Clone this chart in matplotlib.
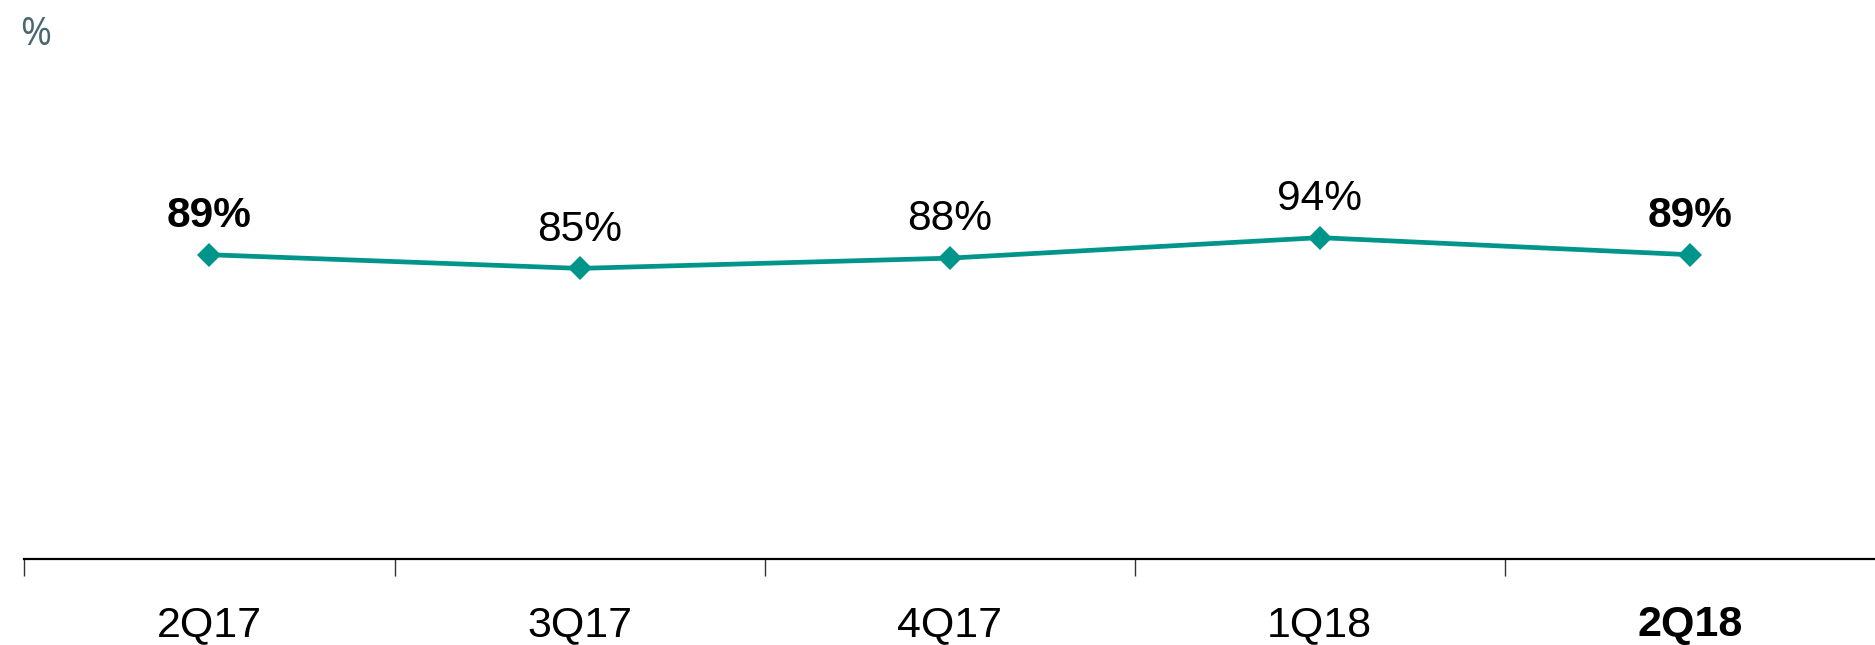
import matplotlib.pyplot as plt

quarters = ["2Q17", "3Q17", "4Q17", "1Q18", "2Q18"]
values = [89, 85, 88, 94, 89]
bold_points = [True, False, False, False, True]

plt.rcParams["font.family"] = ["Liberation Sans", "DejaVu Sans"]

fig = plt.figure(figsize=(18.75, 6.45), dpi=100)
ax = fig.add_axes([0.013, 0.1333, 0.987, 0.8667])

x = range(len(quarters))
ax.plot(x, values, color="#00958a", lw=3.4, marker="D", ms=12.5,
        markeredgewidth=0, zorder=3)

for i, v in enumerate(values):
    ax.annotate("{}%".format(v), (i, v), xytext=(0, 28), textcoords="offset points",
                ha="center", va="center", fontsize=30.5,
                fontweight="bold" if bold_points[i] else "normal")

ax.set_xlim(-0.5, 4.5)
ax.set_ylim(0, 163.5)
ax.set_yticks([])
ax.set_xticks([i - 0.5 for i in x])
ax.set_xticklabels([])
ax.set_xticks(list(x), minor=True)
ax.set_xticklabels(quarters, minor=True, fontsize=31)
ax.get_xticklabels(minor=True)[-1].set_fontweight("bold")
ax.tick_params(axis="x", which="major", direction="out", length=12, width=1, color="#333333")
ax.tick_params(axis="x", which="minor", length=0, pad=33)

for s in ["top", "right", "left"]:
    ax.spines[s].set_visible(False)
ax.spines["bottom"].set_linewidth(1.6)

fig.text(0.011, 0.945, "%", fontsize=27, color="#4a6670", ha="left", va="center",
         family=["Open Sans", "DejaVu Sans"])

fig.savefig("out.png", dpi=100)
